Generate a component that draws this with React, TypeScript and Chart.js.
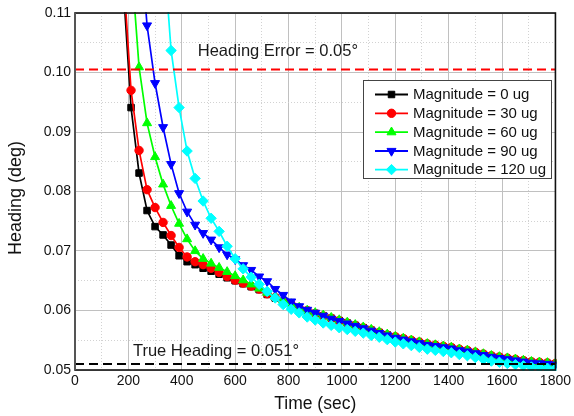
import React, { useEffect, useRef } from 'react';
import { Chart, registerables } from 'chart.js';

Chart.register(...registerables);

const TIME = [
  0, 30, 60, 90, 120, 150, 180, 210, 240, 270, 300, 330, 360, 390, 420, 450, 480, 510, 540, 570,
  600, 630, 660, 690, 720, 750, 780, 810, 840, 870, 900, 930, 960, 990, 1020, 1050, 1080, 1110, 1140, 1170,
  1200, 1230, 1260, 1290, 1320, 1350, 1380, 1410, 1440, 1470, 1500, 1530, 1560, 1590, 1620, 1650, 1680, 1710, 1740, 1770,
  1800,
];

const MAG_0 = [
  null, null, null, null, null, null, 0.115, 0.0941, 0.0831, 0.0768,
  0.0741, 0.0727, 0.0710, 0.0692, 0.0682, 0.0677, 0.0671, 0.0666, 0.0661, 0.0655,
  0.0650, 0.0645, 0.0640, 0.0635, 0.0627, 0.0621, 0.0615, 0.0609, 0.0603, 0.0599,
  0.0595, 0.0591, 0.0587, 0.0583, 0.0579, 0.0575, 0.0571, 0.0567, 0.0563, 0.0559,
  0.0555, 0.0552, 0.0549, 0.0546, 0.0543, 0.0541, 0.0539, 0.0537, 0.0534, 0.0532,
  0.0529, 0.0526, 0.0523, 0.0521, 0.0519, 0.0517, 0.0515, 0.0513, 0.0512, 0.0511,
  0.0510,
];

const MAG_30 = [
  null, null, null, null, null, null, 0.1175, 0.0970, 0.0869, 0.0803,
  0.0773, 0.0748, 0.0726, 0.0706, 0.0690, 0.0682, 0.0677, 0.0671, 0.0664, 0.0657,
  0.0651, 0.0646, 0.0641, 0.0636, 0.0628, 0.0622, 0.0616, 0.0610, 0.0604, 0.0600,
  0.0595, 0.0591, 0.0587, 0.0583, 0.0579, 0.0575, 0.0571, 0.0567, 0.0563, 0.0559,
  0.0556, 0.0553, 0.0550, 0.0547, 0.0544, 0.0542, 0.0540, 0.0538, 0.0535, 0.0533,
  0.0530, 0.0527, 0.0524, 0.0522, 0.0520, 0.0518, 0.0516, 0.0514, 0.0513, 0.0512,
  0.0511,
];

const MAG_60 = [
  null, null, null, null, null, null, null, 0.119, 0.1009, 0.0915,
  0.0858, 0.0812, 0.0776, 0.0746, 0.0720, 0.0700, 0.0687, 0.0679, 0.0672, 0.0665,
  0.0658, 0.0651, 0.0644, 0.0637, 0.0630, 0.0623, 0.0617, 0.0611, 0.0605, 0.0600,
  0.0596, 0.0592, 0.0588, 0.0584, 0.0580, 0.0576, 0.0572, 0.0568, 0.0564, 0.0560,
  0.0556, 0.0553, 0.0550, 0.0547, 0.0544, 0.0542, 0.0540, 0.0538, 0.0535, 0.0533,
  0.0530, 0.0527, 0.0524, 0.0522, 0.0520, 0.0518, 0.0516, 0.0514, 0.0513, 0.0512,
  0.0511,
];

const MAG_90 = [
  null, null, null, null, null, null, null, null, 0.125, 0.1079,
  0.0982, 0.0908, 0.0846, 0.0797, 0.0766, 0.0744, 0.0730, 0.0719, 0.0706, 0.0694,
  0.0686, 0.0676, 0.0668, 0.0657, 0.0649, 0.0636, 0.0626, 0.0615, 0.0607, 0.0601,
  0.0596, 0.0591, 0.0586, 0.0582, 0.0578, 0.0574, 0.0570, 0.0566, 0.0562, 0.0558,
  0.0554, 0.0551, 0.0548, 0.0545, 0.0542, 0.0540, 0.0538, 0.0536, 0.0533, 0.0531,
  0.0528, 0.0525, 0.0522, 0.0520, 0.0518, 0.0516, 0.0514, 0.0512, 0.0511, 0.0510,
  0.0509,
];

const MAG_120 = [
  null, null, null, null, null, null, null, null, null, null,
  null, 0.122, 0.1037, 0.0941, 0.0868, 0.0822, 0.0784, 0.0755, 0.0733, 0.0708,
  0.0687, 0.0670, 0.0656, 0.0644, 0.0632, 0.0621, 0.0610, 0.0602, 0.0596, 0.0589,
  0.0584, 0.0579, 0.0575, 0.0571, 0.0568, 0.0565, 0.0562, 0.0558, 0.0555, 0.0551,
  0.0547, 0.0544, 0.0541, 0.0538, 0.0535, 0.0533, 0.0531, 0.0529, 0.0526, 0.0524,
  0.0521, 0.0518, 0.0515, 0.0513, 0.0511, 0.0509, 0.0507, 0.0505, 0.0504, 0.0503,
  0.0502,
];

const SERIES_LABELS = [
  'Magnitude = 0 ug',
  'Magnitude = 30 ug',
  'Magnitude = 60 ug',
  'Magnitude = 90 ug',
  'Magnitude = 120 ug',
];

const HEADING_ERROR_LINE = 0.1005;
const TRUE_HEADING_LINE = 0.051;
const HEADING_ERROR_TEXT = 'Heading Error = 0.05°';
const TRUE_HEADING_TEXT = 'True Heading = 0.051°';
const X_TITLE = 'Time (sec)';
const Y_TITLE = 'Heading (deg)';

const X_MIN = 0;
const X_MAX = 1800;
const Y_MIN = 0.05;
const Y_MAX = 0.11;

const FONT = "'Liberation Sans', Arial, sans-serif";

type StyleDef = { color: string; pointStyle: string; radius: number; rotation: number };
const STYLES: StyleDef[] = [
  { color: '#000000', pointStyle: 'rect', radius: 4.6, rotation: 0 },
  { color: '#ff0000', pointStyle: 'circle', radius: 4.2, rotation: 0 },
  { color: '#00ff00', pointStyle: 'triangle', radius: 5.2, rotation: 0 },
  { color: '#0000ff', pointStyle: 'triangle', radius: 5.2, rotation: 180 },
  { color: '#00ffff', pointStyle: 'rectRot', radius: 5.2, rotation: 0 },
];

function drawMarker(ctx: CanvasRenderingContext2D, s: StyleDef, x: number, y: number) {
  ctx.save();
  ctx.fillStyle = s.color;
  ctx.strokeStyle = s.color;
  ctx.lineWidth = 1;
  ctx.translate(x, y);
  ctx.rotate((s.rotation * Math.PI) / 180);
  ctx.beginPath();
  const r = s.radius;
  if (s.pointStyle === 'rect') {
    const h = r * Math.SQRT1_2;
    ctx.rect(-h, -h, 2 * h, 2 * h);
  } else if (s.pointStyle === 'circle') {
    ctx.arc(0, 0, r, 0, Math.PI * 2);
  } else if (s.pointStyle === 'triangle') {
    ctx.moveTo(0, -r);
    ctx.lineTo(r * Math.cos(Math.PI / 6), r * 0.5);
    ctx.lineTo(-r * Math.cos(Math.PI / 6), r * 0.5);
  } else {
    ctx.moveTo(0, -r);
    ctx.lineTo(r, 0);
    ctx.lineTo(0, r);
    ctx.lineTo(-r, 0);
  }
  ctx.closePath();
  ctx.fill();
  ctx.stroke();
  ctx.restore();
}

const isMajorX = (v: number) => Math.round(v) % 200 === 0;
const isMajorY = (v: number) => Math.round(v * 1000) % 10 === 0;

const decorPlugin = {
  id: 'decor',
  afterDraw(chart: any) {
    const { ctx, chartArea, scales } = chart;
    const xs = scales.x;
    const ys = scales.y;
    ctx.save();

    // annotation texts
    ctx.fillStyle = '#1a1a1a';
    ctx.font = `16.5px ${FONT}`;
    ctx.textAlign = 'left';
    ctx.textBaseline = 'middle';
    ctx.fillText(HEADING_ERROR_TEXT, xs.getPixelForValue(460), ys.getPixelForValue(0.1035));
    ctx.fillText(TRUE_HEADING_TEXT, xs.getPixelForValue(217), ys.getPixelForValue(0.0532));

    // frame
    ctx.strokeStyle = '#111111';
    ctx.lineWidth = 1.6;
    ctx.strokeRect(chartArea.left, chartArea.top, chartArea.right - chartArea.left, chartArea.bottom - chartArea.top);
    ctx.strokeStyle = '#555555';
    ctx.lineWidth = 2;
    ctx.beginPath();
    ctx.moveTo(chartArea.left, chartArea.top);
    ctx.lineTo(chartArea.left, chartArea.bottom);
    ctx.stroke();

    // legend
    const lx = 363.5;
    const ly = 80.5;
    const lw = 188;
    const lh = 98;
    ctx.fillStyle = '#ffffff';
    ctx.fillRect(lx, ly, lw, lh);
    ctx.strokeStyle = '#444444';
    ctx.lineWidth = 1;
    ctx.strokeRect(lx, ly, lw, lh);
    const rows = [94.5, 113.3, 132.2, 151, 169.6];
    ctx.font = `15px ${FONT}`;
    ctx.textAlign = 'left';
    ctx.textBaseline = 'middle';
    SERIES_LABELS.forEach((label, i) => {
      const s = STYLES[i];
      const y = rows[i];
      ctx.strokeStyle = s.color;
      ctx.lineWidth = 1.8;
      ctx.beginPath();
      ctx.moveTo(375, y);
      ctx.lineTo(408, y);
      ctx.stroke();
      drawMarker(ctx, s, 391.5, y);
      ctx.fillStyle = '#111111';
      ctx.fillText(label, 413, y + 0.5);
    });

    // y title
    ctx.save();
    ctx.translate(16.5, 198);
    ctx.rotate(-Math.PI / 2);
    ctx.font = `18px ${FONT}`;
    ctx.fillStyle = '#111111';
    ctx.textAlign = 'center';
    ctx.textBaseline = 'middle';
    ctx.fillText(Y_TITLE, 0, 0);
    ctx.restore();

    ctx.restore();
  },
};

export default function App() {
  const ref = useRef<HTMLCanvasElement | null>(null);

  useEffect(() => {
    if (!ref.current) return;
    const series = [MAG_0, MAG_30, MAG_60, MAG_90, MAG_120];
    const dataSets: any[] = series.map((arr, i) => ({
      label: SERIES_LABELS[i],
      data: TIME.map((t, j) => ({ x: t, y: arr[j] })),
      borderColor: STYLES[i].color,
      backgroundColor: STYLES[i].color,
      pointBackgroundColor: STYLES[i].color,
      pointBorderColor: STYLES[i].color,
      pointStyle: STYLES[i].pointStyle,
      pointRadius: STYLES[i].radius,
      pointRotation: STYLES[i].rotation,
      pointBorderWidth: 1,
      borderWidth: 1.7,
      tension: 0,
      spanGaps: false,
      order: 10 - i,
      clip: 1,
    }));
    dataSets.push({
      label: 'error',
      data: [
        { x: X_MIN, y: HEADING_ERROR_LINE },
        { x: X_MAX, y: HEADING_ERROR_LINE },
      ],
      borderColor: '#ff0000',
      borderWidth: 2,
      borderDash: [9, 5],
      pointRadius: 0,
      order: 1,
    });
    dataSets.push({
      label: 'true',
      data: [
        { x: X_MIN, y: TRUE_HEADING_LINE },
        { x: X_MAX, y: TRUE_HEADING_LINE },
      ],
      borderColor: '#000000',
      borderWidth: 2,
      borderDash: [9, 5],
      pointRadius: 0,
      order: 0,
    });

    const chart = new Chart(ref.current, {
      type: 'line',
      data: { datasets: dataSets },
      options: {
        animation: false,
        responsive: false,
        devicePixelRatio: 1,
        layout: { padding: { left: 0, top: 13, right: 18, bottom: 0 } },
        plugins: { legend: { display: false }, tooltip: { enabled: false } },
        scales: {
          x: {
            type: 'linear',
            min: X_MIN,
            max: X_MAX,
            afterFit: (s: any) => {
              s.height = 46;
            },
            ticks: {
              stepSize: 100,
              autoSkip: false,
              maxRotation: 0,
              padding: 3,
              color: '#111111',
              font: { family: FONT, size: 14 },
              callback: (v: any) => (isMajorX(Number(v)) ? String(Math.round(Number(v))) : ''),
            },
            grid: {
              drawTicks: false,
              color: (c: any) => (c.tick && isMajorX(c.tick.value) ? '#c0c0c0' : '#d2d2d2'),
              lineWidth: 1,
            },
            border: {
              display: false,
              dash: (c: any) => (c.tick && !isMajorX(c.tick.value) ? [1, 2] : []),
            },
            title: {
              display: true,
              text: X_TITLE,
              color: '#111111',
              font: { family: FONT, size: 17.5 },
              padding: { top: 0, bottom: 1 },
            },
          },
          y: {
            type: 'linear',
            min: Y_MIN,
            max: Y_MAX,
            afterFit: (s: any) => {
              s.width = 75;
            },
            ticks: {
              stepSize: 0.005,
              autoSkip: false,
              padding: 4,
              color: '#111111',
              font: { family: FONT, size: 14 },
              callback: (v: any) => (isMajorY(Number(v)) ? Number(v).toFixed(2) : ''),
            },
            grid: {
              drawTicks: false,
              color: (c: any) => (c.tick && isMajorY(c.tick.value) ? '#c0c0c0' : '#d2d2d2'),
              lineWidth: 1,
            },
            border: {
              display: false,
              dash: (c: any) => (c.tick && !isMajorY(c.tick.value) ? [1, 2] : []),
            },
          },
        },
      },
      plugins: [decorPlugin],
    } as any);

    return () => chart.destroy();
  }, []);

  return (
    <div style={{ position: 'fixed', left: 0, top: 0, width: 574, height: 416, background: '#ffffff' }}>
      <canvas ref={ref} width={574} height={416} style={{ width: 574, height: 416, display: 'block' }} />
    </div>
  );
}
